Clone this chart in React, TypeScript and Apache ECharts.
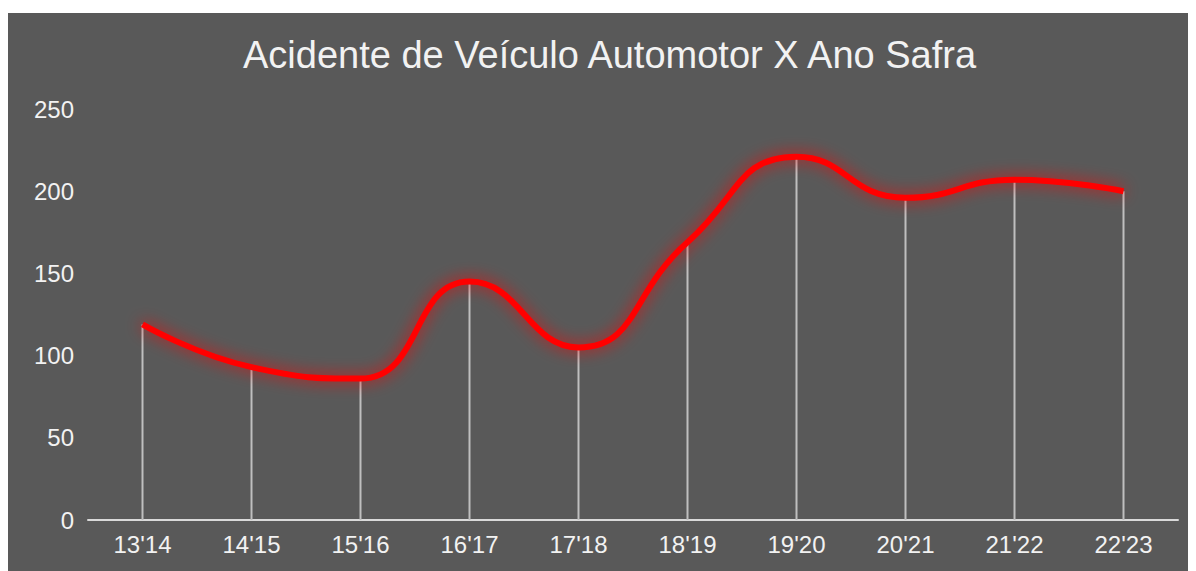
import React, { useEffect, useRef } from "react";
import * as echarts from "echarts";

const categories = ["13'14", "14'15", "15'16", "16'17", "17'18", "18'19", "19'20", "20'21", "21'22", "22'23"];
const accidents = [119, 93, 86, 145, 105, 169, 221, 196, 207, 200];
const yTicks = { min: 0, max: 250, interval: 50 };
const titleText = "Acidente de Veículo Automotor X Ano Safra";

export default function App() {
  const ref = useRef<HTMLDivElement>(null);
  useEffect(() => {
    if (!ref.current) return;
    const chart = echarts.init(ref.current, undefined, { renderer: "svg" });
    const font = "Liberation Sans, Arial, sans-serif";
    chart.setOption({
      animation: false,
      backgroundColor: "#595959",
      title: {
        text: titleText,
        left: 230,
        top: 18,
        textStyle: { color: "#f2f2f2", fontSize: 38, fontWeight: "normal", fontFamily: font },
      },
      grid: { left: 80, right: 18, top: 96, bottom: 51, containLabel: false },
      xAxis: {
        type: "category",
        data: categories,
        boundaryGap: true,
        axisLine: { lineStyle: { color: "#d9d9d9", width: 2 } },
        axisTick: { show: false },
        axisLabel: { color: "#f2f2f2", fontSize: 24, margin: 12, fontFamily: font },
      },
      yAxis: {
        type: "value",
        min: yTicks.min,
        max: yTicks.max,
        interval: yTicks.interval,
        splitLine: { show: false },
        axisLine: { show: false },
        axisTick: { show: false },
        axisLabel: { color: "#f2f2f2", fontSize: 24, margin: 14, fontFamily: font },
      },
      series: [
        {
          type: "bar",
          data: accidents,
          barWidth: 2,
          itemStyle: { color: "#bfbfbf" },
          silent: true,
        },
        {
          type: "line",
          data: accidents,
          smooth: 0.5,
          symbol: "none",
          lineStyle: {
            color: "#ff0000",
            width: 6,
            shadowColor: "rgba(255,0,0,0.9)",
            shadowBlur: 16,
          },
          z: 5,
        },
      ],
    });
    return () => chart.dispose();
  }, []);
  return <div ref={ref} style={{ width: 1188, height: 558, marginTop: 5 }} />;
}
